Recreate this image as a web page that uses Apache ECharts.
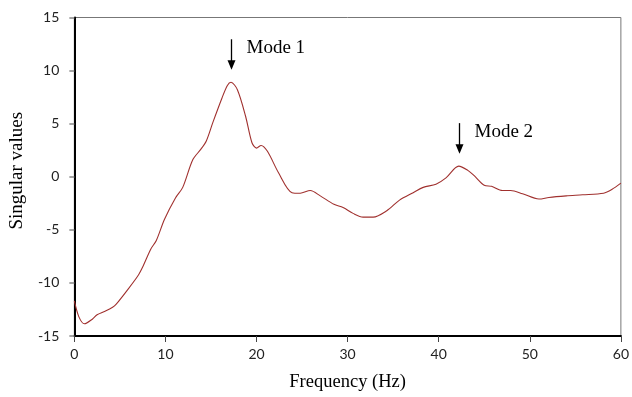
<!DOCTYPE html>
<html>
<head>
<meta charset="utf-8">
<script src="https://cdn.jsdelivr.net/npm/echarts@6/dist/echarts.min.js"></script>
<style>
  html, body { margin: 0; padding: 0; background: #fff; }
  #chart { width: 632px; height: 397px; }
</style>
</head>
<body>
<div id="chart"></div>
<script>
// Frequency response: first singular value vs. frequency
var freqHz = [0, 0.5, 1.1, 2.0, 2.5, 3.3, 4.2, 4.6, 5.8, 7.0, 7.5, 8.4, 9.0, 9.9, 11.1, 11.9,
  13.0, 13.9, 14.5, 15.2, 16.2, 16.8, 17.2, 17.9, 18.8, 19.5, 20.0, 20.5, 21.2, 22.4, 23.9,
  24.8, 25.9, 27.0, 28.5, 29.5, 30.6, 31.7, 32.8, 34.3, 35.7, 37.2, 38.3, 39.7, 40.8, 42.2,
  43.2, 43.9, 45.0, 45.8, 47.0, 47.9, 49.2, 51.0, 52.1, 54.0, 55.8, 58.1, 59.0, 60];
var singularValues = [-11.7, -13.2, -13.85, -13.4, -13.0, -12.7, -12.3, -12.0, -10.7, -9.3, -8.5, -6.8, -6.0, -4.0, -2.0, -1.0,
  1.6, 2.6, 3.4, 5.1, 7.4, 8.6, 8.9, 8.2, 5.7, 3.2, 2.7, 2.95, 2.4, 0.4, -1.5,
  -1.55, -1.3, -1.8, -2.6, -2.9, -3.45, -3.8, -3.8, -3.2, -2.2, -1.5, -1.0, -0.7, -0.1, 1.0,
  0.6, 0.1, -0.8, -0.9, -1.3, -1.3, -1.6, -2.1, -1.95, -1.8, -1.7, -1.55, -1.2, -0.6];

// Identified modes
var modeNames = ['Mode 1', 'Mode 2'];
var modeFreqs = [17.2, 42.2];

var yTicks = [-15, -10, -5, 0, 5, 10, 15];
var xTicks = [0, 10, 20, 30, 40, 50, 60];

var lineData = freqHz.map(function (f, i) { return [f, singularValues[i]]; });
var modeData = modeFreqs.map(function (f, i) {
  var k = freqHz.indexOf(f);
  return [f, singularValues[k], modeNames[i]];
});

var chart = echarts.init(document.getElementById('chart'), null, { renderer: 'canvas' });

chart.setOption({
  animation: false,
  backgroundColor: '#fff',
  grid: {
    left: 73, right: 9.5, top: 17.5, bottom: 59.5,
    show: true, borderColor: '#777', borderWidth: 1
  },
  xAxis: {
    type: 'value',
    min: xTicks[0], max: xTicks[xTicks.length - 1], interval: 10,
    name: 'Frequency (Hz)', nameLocation: 'middle', nameGap: 37,
    nameTextStyle: { fontFamily: 'Liberation Serif', fontSize: 18.5, color: '#000' },
    axisLine: { onZero: false, lineStyle: { color: '#000', width: 2 } },
    axisTick: { show: true, inside: false, length: 6, lineStyle: { color: '#444', width: 1 } },
    axisLabel: { margin: 11, fontFamily: 'Lato', fontSize: 14, color: '#222' },
    splitLine: { show: false }
  },
  yAxis: {
    type: 'value',
    min: yTicks[0], max: yTicks[yTicks.length - 1], interval: 5,
    name: 'Singular values', nameLocation: 'middle', nameGap: 42, nameRotate: 90,
    nameTextStyle: { fontFamily: 'Liberation Serif', fontSize: 19, color: '#000', padding: [0, 0, 0, 12] },
    axisLine: { onZero: false, lineStyle: { color: '#000', width: 2 } },
    axisTick: { show: true, inside: false, length: 5, lineStyle: { color: '#888', width: 1.5 } },
    axisLabel: { margin: 15, fontFamily: 'Lato', fontSize: 14, color: '#222' },
    splitLine: { show: false }
  },
  series: [
    {
      type: 'line',
      data: lineData,
      smooth: 0.3,
      showSymbol: false,
      lineStyle: { color: '#a0302e', width: 1.1 },
      z: 3
    },
    {
      type: 'custom',
      data: modeData,
      z: 4,
      renderItem: function (params, api) {
        var p = api.coord([api.value(0), api.value(1)]);
        var x = Math.round(p[0]) + 0.5;
        var tip = p[1] - 12.5;
        var top = tip - 30.5;
        return {
          type: 'group',
          children: [
            { type: 'line', shape: { x1: x, y1: top, x2: x, y2: tip - 8 },
              style: { stroke: '#000', lineWidth: 1.3 } },
            { type: 'polygon', shape: { points: [[x - 4, tip - 9.5], [x + 4, tip - 9.5], [x, tip]] },
              style: { fill: '#000' } },
            { type: 'text', x: x + 15, y: top + 18,
              style: { text: api.value(2), fontFamily: 'Liberation Serif', fontSize: 19,
                fill: '#000', textVerticalAlign: 'bottom', verticalAlign: 'bottom' } }
          ]
        };
      }
    }
  ]
});
</script>
</body>
</html>
